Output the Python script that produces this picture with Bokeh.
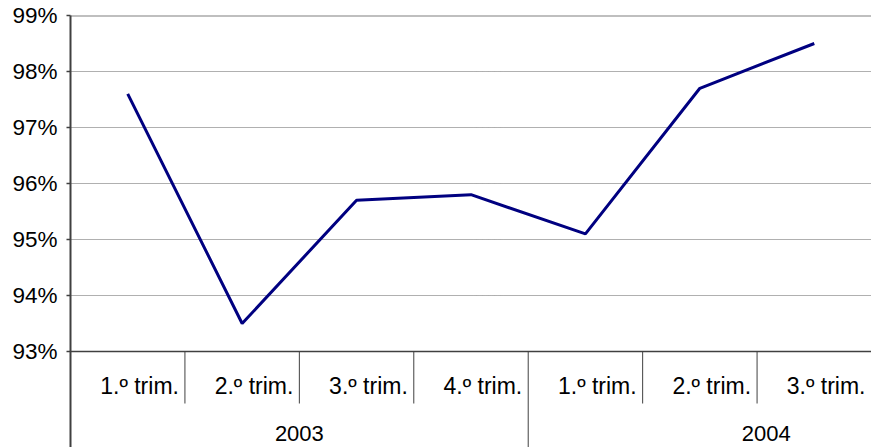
from bokeh.plotting import figure
from bokeh.models import Range1d, FixedTicker
from bokeh.embed import file_html
from bokeh.resources import INLINE
from bokeh.core.properties import value

# ---- data ----
quarters = ["1.º trim.", "2.º trim.", "3.º trim.", "4.º trim.", "1.º trim.", "2.º trim.", "3.º trim."]
years = ["2003", "2004"]
year_counts = [4, 3]
values = [97.6, 93.5, 95.7, 95.8, 95.1, 97.7, 98.5]
y_ticks = [93, 94, 95, 96, 97, 98, 99]
y_tick_labels = ["93%", "94%", "95%", "96%", "97%", "98%", "99%"]

# ---- layout ----
W, H = 871, 447
top_border = 15
left_border = 70
y_lo, y_hi = y_ticks[0], y_ticks[-1]
frame_h = H - top_border
px_per_unit = 56.0
y_min = y_hi - frame_h / px_per_unit
n = len(quarters)

def y_at(px_below_axis):
    return y_lo - px_below_axis / px_per_unit

FONT = "Liberation Sans"
FS = "23px"

p = figure(width=W, height=H, output_backend="svg", toolbar_location=None,
           x_range=Range1d(0, n), y_range=Range1d(y_min, y_hi),
           x_axis_location=None, min_border_left=left_border, min_border_right=0,
           min_border_top=top_border, min_border_bottom=0)
p.outline_line_color = None
p.background_fill_color = "white"
p.xgrid.visible = False
p.ygrid.ticker = FixedTicker(ticks=y_ticks[1:-1])
p.ygrid.grid_line_color = "#606060"
p.ygrid.grid_line_dash = "1 1"
p.ygrid.grid_line_width = 1

ax = p.yaxis[0]
ax.ticker = FixedTicker(ticks=y_ticks)
ax.major_label_overrides = {t: l for t, l in zip(y_ticks, y_tick_labels)}
ax.axis_line_color = "#404040"
ax.axis_line_width = 2
ax.major_tick_line_color = "#404040"
ax.major_tick_line_width = 1.5
ax.major_tick_in = 0
ax.major_tick_out = 4
ax.minor_tick_line_color = None
ax.major_label_standoff = 9
ax.major_label_text_font = FONT
ax.major_label_text_font_size = "22.5px"
ax.major_label_text_color = "black"

# top (99%) border line and bottom axis line
p.segment(x0=[0], y0=[y_hi], x1=[n], y1=[y_hi], line_color="#808080", line_width=2)
p.segment(x0=[0], y0=[y_lo], x1=[n], y1=[y_lo], line_color="#404040", line_width=1.5)

# category separators
sep_q = [i for i in range(1, n)]
bounds = [sum(year_counts[:k]) for k in range(1, len(year_counts))]
ends = [y_min if s in bounds else y_at(52) for s in sep_q]
p.segment(x0=sep_q, y0=[y_lo] * len(sep_q), x1=sep_q, y1=ends, line_color="#404040", line_width=1)

# data line
xs = [i + 0.5 for i in range(n)]
p.line(xs, values, line_color="#000080", line_width=3)

# quarter labels (right aligned inside each cell)
p.text(x=[i + 1 for i in range(n)], y=[y_at(34)] * n, text=quarters,
       text_align="right", text_baseline="middle", x_offset=-6,
       text_font=value(FONT), text_font_size=FS, text_color="black")

# year labels
year_x = [year_counts[0] / 2, 6.08]
p.text(x=year_x, y=[y_at(82)] * len(years), text=years,
       text_align="center", text_baseline="middle",
       text_font=value(FONT), text_font_size="22px", text_color="black")

open("out.html", "w").write(file_html(p, INLINE))
